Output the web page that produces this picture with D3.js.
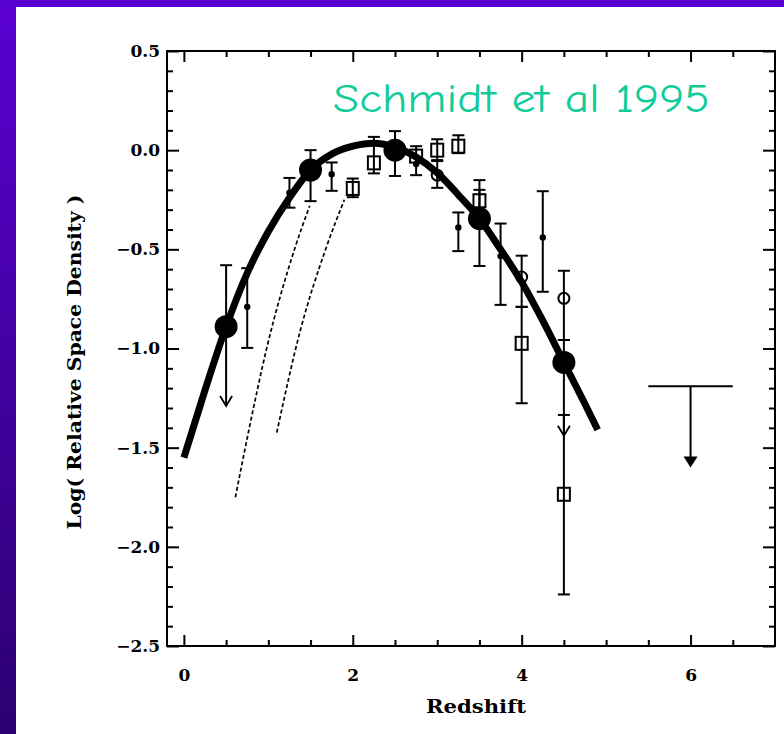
<!DOCTYPE html>
<html>
<head>
<meta charset="utf-8">
<script src="https://cdn.jsdelivr.net/npm/d3@7"></script>
<style>
  html, body { margin: 0; padding: 0; background: #ffffff; }
  svg { display: block; }
</style>
</head>
<body>
<script>
// Quasar space density vs redshift
const fitZ   = [0.0, 0.25, 0.5, 0.75, 1.0, 1.25, 1.5, 1.75, 2.0, 2.25, 2.5, 2.75, 3.0, 3.25, 3.5, 3.75, 4.0, 4.25, 4.5, 4.75, 4.9];
const fitLog = [-1.55, -1.21, -0.89, -0.62, -0.41, -0.24, -0.10, -0.02, 0.02, 0.035, 0.015, -0.035, -0.115, -0.225, -0.345, -0.50, -0.665, -0.86, -1.07, -1.28, -1.41];

// Binned points: large filled circles (arrow = upper limit below)
const bigZ   = [0.5, 1.5, 2.5, 3.5, 4.5];
const bigLog = [-0.89, -0.10, 0.0, -0.345, -1.07];
const bigHi  = [-0.58, 0.0, 0.096, -0.151, -0.957];
const bigLo  = [-1.29, -0.257, -0.13, -0.584, -1.44];
const bigArrow = [true, false, false, false, true];

// Small filled dots
const dotZ   = [0.75, 1.25, 1.75, 2.75, 3.25, 3.75, 4.25];
const dotLog = [-0.79, -0.215, -0.121, -0.07, -0.39, -0.534, -0.44];
const dotHi  = [-0.595, -0.14, -0.062, 0.02, -0.314, -0.37, -0.207];
const dotLo  = [-0.997, -0.29, -0.205, -0.126, -0.509, -0.78, -0.714];

// Open squares
const sqZ   = [2.0, 2.25, 2.75, 3.0, 3.25, 3.5, 4.0, 4.5];
const sqLog = [-0.193, -0.064, -0.03, 0.0, 0.02, -0.255, -0.974, -1.735];
const sqHi  = [-0.143, 0.067, null, 0.055, 0.075, -0.20, -0.79, -1.335];
const sqLo  = [-0.237, -0.117, null, -0.055, -0.015, -0.31, -1.276, -2.24];

// Open circles
const ocZ   = [3.0, 4.0, 4.5];
const ocLog = [-0.126, -0.64, -0.747];
const ocHi  = [-0.05, -0.532, -0.608];
const ocLo  = [-0.19, -0.79, -0.957];

// Upper limit at high redshift
const limZ0 = 5.5, limZ1 = 6.5, limZ = 6.0, limLog = -1.19, limTo = -1.6;

// Model curves (dashed)
const modelAZ   = [0.61, 0.77, 0.98, 1.31, 1.49];
const modelALog = [-1.75, -1.41, -1.0, -0.50, -0.28];
const modelBZ   = [1.10, 1.38, 1.675, 1.90];
const modelBLog = [-1.424, -0.907, -0.504, -0.25];

// Axis ticks
const xMajor = [0, 2, 4, 6];
const xMajorLabels = ["0", "2", "4", "6"];
const xMinor = [0.5, 1, 1.5, 2.5, 3, 3.5, 4.5, 5, 5.5, 6.5];
const yMajor = [0.5, 0.0, -0.5, -1.0, -1.5, -2.0, -2.5];
const yMajorLabels = ["0.5", "0.0", "\u22120.5", "\u22121.0", "\u22121.5", "\u22122.0", "\u22122.5"];
const yMinor = d3.range(-24, 5).filter(k => k % 5 !== 0).map(k => k / 10);

const W = 784, H = 734;
const svg = d3.select("body").append("svg").attr("width", W).attr("height", H);

// purple slide border
const defs = svg.append("defs");
const grad = defs.append("linearGradient").attr("id", "band").attr("x1", 0).attr("y1", 0).attr("x2", 0).attr("y2", 1);
grad.append("stop").attr("offset", "0%").attr("stop-color", "#5a00d2");
grad.append("stop").attr("offset", "100%").attr("stop-color", "#2c0070");
svg.append("rect").attr("x", 0).attr("y", 0).attr("width", W).attr("height", H).attr("fill", "#ffffff");
svg.append("rect").attr("x", 0).attr("y", 0).attr("width", 16).attr("height", H).attr("fill", "url(#band)");
svg.append("rect").attr("x", 0).attr("y", 0).attr("width", W).attr("height", 7).attr("fill", "#5800cf");

const pL = 167, pR = 775, pT = 51, pB = 646;
const x = d3.scaleLinear().domain([-0.2, 7.0]).range([pL, pR]);
const y = d3.scaleLinear().domain([-2.5, 0.5]).range([pB, pT]);

const axisFont = "'DejaVu Serif', 'Liberation Serif', serif";

// ticks on all four sides, pointing inward
function xTicks(vals, len, labels) {
  const b = d3.axisBottom(x).tickValues(vals).tickSizeInner(-len).tickSizeOuter(0).tickPadding(23)
    .tickFormat((d, i) => labels ? labels[i] : "");
  const t = d3.axisTop(x).tickValues(vals).tickSizeInner(-len).tickSizeOuter(0).tickFormat("");
  svg.append("g").attr("class", "ax").attr("transform", `translate(0,${pB})`).call(b).call(g => g.select(".domain").remove());
  svg.append("g").attr("class", "ax").attr("transform", `translate(0,${pT})`).call(t).call(g => g.select(".domain").remove());
}
function yTicks(vals, len, labels) {
  const l = d3.axisLeft(y).tickValues(vals).tickSizeInner(-len).tickSizeOuter(0).tickPadding(7)
    .tickFormat((d, i) => labels ? labels[i] : "");
  const r = d3.axisRight(y).tickValues(vals).tickSizeInner(-len).tickSizeOuter(0).tickFormat("");
  svg.append("g").attr("class", "ax").attr("transform", `translate(${pL},0)`).call(l).call(g => g.select(".domain").remove());
  svg.append("g").attr("class", "ax").attr("transform", `translate(${pR},0)`).call(r).call(g => g.select(".domain").remove());
}
xTicks(xMinor, 6, null);
xTicks(xMajor, 11, xMajorLabels);
yTicks(yMinor, 6, null);
yTicks(yMajor, 12, yMajorLabels);

svg.selectAll(".ax .tick line").attr("stroke", "#000").attr("stroke-width", 2);
svg.selectAll(".ax .tick text").attr("font-family", axisFont).attr("font-weight", "bold")
  .attr("font-size", 17).attr("fill", "#000");

// frame
svg.append("rect").attr("x", pL).attr("y", pT).attr("width", pR - pL).attr("height", pB - pT)
  .attr("fill", "none").attr("stroke", "#000").attr("stroke-width", 2);

// axis titles
svg.append("text").attr("x", 476).attr("y", 713).attr("text-anchor", "middle")
  .attr("font-family", axisFont).attr("font-weight", "bold").attr("font-size", 19)
  .attr("textLength", 100).attr("lengthAdjust", "spacingAndGlyphs")
  .text("Redshift");
svg.append("text").attr("transform", "translate(81,362) rotate(-90)").attr("text-anchor", "middle")
  .attr("font-family", axisFont).attr("font-weight", "bold").attr("font-size", 18)
  .attr("textLength", 335).attr("lengthAdjust", "spacingAndGlyphs")
  .text("Log( Relative Space Density )");

const plot = svg.append("g");

// dashed model curves
const line = d3.line().x(d => x(d[0])).y(d => y(d[1])).curve(d3.curveMonotoneX);
[[modelAZ, modelALog], [modelBZ, modelBLog]].forEach(([zs, vs]) => {
  plot.append("path").datum(zs.map((z, i) => [z, vs[i]])).attr("d", line)
    .attr("fill", "none").attr("stroke", "#000").attr("stroke-width", 1.7).attr("stroke-dasharray", "4,2.5");
});

// fitted curve
plot.append("path").datum(fitZ.map((z, i) => [z, fitLog[i]])).attr("d", line)
  .attr("fill", "none").attr("stroke", "#000").attr("stroke-width", 7).attr("stroke-linecap", "butt");

// error bars with caps
function errBar(z, hi, lo, capHi, capLo) {
  if (hi == null || lo == null) return;
  const cx = x(z);
  plot.append("line").attr("x1", cx).attr("x2", cx).attr("y1", y(hi)).attr("y2", y(lo))
    .attr("stroke", "#000").attr("stroke-width", 2);
  if (capHi) plot.append("line").attr("x1", cx - 6).attr("x2", cx + 6).attr("y1", y(hi)).attr("y2", y(hi))
    .attr("stroke", "#000").attr("stroke-width", 2);
  if (capLo) plot.append("line").attr("x1", cx - 6).attr("x2", cx + 6).attr("y1", y(lo)).attr("y2", y(lo))
    .attr("stroke", "#000").attr("stroke-width", 2);
}
function openArrow(z, v) {
  const cx = x(z), cy = y(v);
  plot.append("path").attr("d", `M${cx - 6},${cy - 10} L${cx},${cy} L${cx + 6},${cy - 10}`)
    .attr("fill", "none").attr("stroke", "#000").attr("stroke-width", 1.8);
}

dotZ.forEach((z, i) => errBar(z, dotHi[i], dotLo[i], true, true));
sqZ.forEach((z, i) => errBar(z, sqHi[i], sqLo[i], true, true));
ocZ.forEach((z, i) => errBar(z, ocHi[i], ocLo[i], true, true));
bigZ.forEach((z, i) => {
  errBar(z, bigHi[i], bigLo[i], true, !bigArrow[i]);
  if (bigArrow[i]) openArrow(z, bigLo[i]);
});

// markers
plot.selectAll(".dot").data(dotZ).join("circle").attr("class", "dot")
  .attr("cx", d => x(d)).attr("cy", (d, i) => y(dotLog[i])).attr("r", 3.2).attr("fill", "#000");
plot.selectAll(".sq").data(sqZ).join("rect").attr("class", "sq")
  .attr("x", d => x(d) - 6).attr("y", (d, i) => y(sqLog[i]) - 6.5).attr("width", 12).attr("height", 13)
  .attr("fill", "none").attr("stroke", "#000").attr("stroke-width", 2);
plot.selectAll(".oc").data(ocZ).join("circle").attr("class", "oc")
  .attr("cx", d => x(d)).attr("cy", (d, i) => y(ocLog[i])).attr("r", 5.5)
  .attr("fill", "none").attr("stroke", "#000").attr("stroke-width", 2);
plot.selectAll(".big").data(bigZ).join("circle").attr("class", "big")
  .attr("cx", d => x(d)).attr("cy", (d, i) => y(bigLog[i])).attr("r", 11.5).attr("fill", "#000");

// upper limit at z ~ 6
plot.append("line").attr("x1", x(limZ0)).attr("x2", x(limZ1)).attr("y1", y(limLog)).attr("y2", y(limLog))
  .attr("stroke", "#000").attr("stroke-width", 2);
plot.append("line").attr("x1", x(limZ)).attr("x2", x(limZ)).attr("y1", y(limLog)).attr("y2", y(limTo) - 8)
  .attr("stroke", "#000").attr("stroke-width", 2);
plot.append("path")
  .attr("d", `M${x(limZ) - 7},${y(limTo) - 11} L${x(limZ) + 7},${y(limTo) - 11} L${x(limZ)},${y(limTo)} Z`)
  .attr("fill", "#000");

// citation
svg.append("text").attr("x", 333).attr("y", 112)
  .attr("font-family", "'Comic Sans MS', 'Comic Neue', 'Noto Sans', sans-serif").attr("font-size", 40)
  .attr("fill", "#10cc99").attr("textLength", 377).attr("lengthAdjust", "spacingAndGlyphs")
  .text("Schmidt et al 1995");
</script>
</body>
</html>
